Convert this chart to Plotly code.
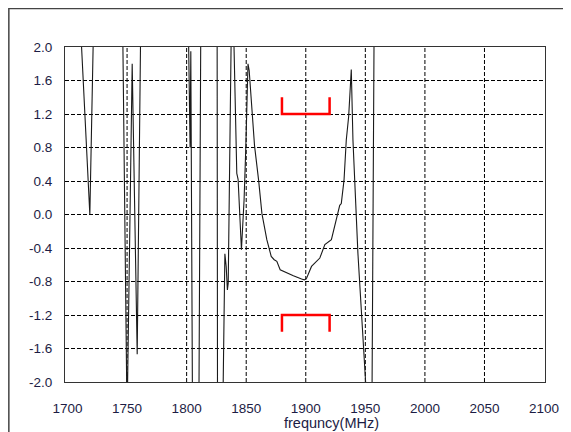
import plotly.graph_objects as go

# Measured trace (MHz, value); values beyond +/-2 run off the plotted scale
freq = [1700.0, 1718.75, 1721.5, 1724.0, 1745.5, 1750.0, 1754.3, 1758.5, 1762.0,
        1801.0, 1802.9, 1803.5, 1805.2, 1809.8, 1812.5, 1825.5, 1826.0, 1829.5,
        1832.1, 1833.2, 1834.2, 1834.9, 1837.8, 1839.0, 1842.1, 1843.2, 1846.0,
        1848.2, 1849.6, 1851.5, 1852.5, 1857.0, 1860.4, 1863.2, 1867.3, 1871.0,
        1873.5, 1875.7, 1878.5, 1882.7, 1889.6, 1896.5, 1898.75, 1900.7, 1904.8,
        1911.8, 1916.0, 1921.5, 1924.3, 1928.5, 1929.8, 1932.1, 1934.0, 1936.0,
        1938.2, 1939.6, 1943.75, 1950.2, 1951.5, 1955.5, 1957.5, 1960.0]
value = [5.4, 0.0, 2.0, 3.82, 3.29, -2.45, 1.8, -1.67, 3.0,
         2.7, 0.8, 1.95, -3.2, -3.7, 4.0, 3.5, -3.5, -3.3,
         -0.47, -0.62, -0.90, -0.82, 2.59, 2.5, 0.49, 0.42, -0.42,
         0.17, 0.77, 1.8, 1.72, 0.82, 0.41, 0.01, -0.30, -0.50,
         -0.54, -0.56, -0.66, -0.69, -0.73, -0.77, -0.78, -0.76, -0.62,
         -0.52, -0.36, -0.30, -0.15, 0.11, 0.13, 0.41, 0.89, 1.17,
         1.73, 0.89, -0.46, -1.94, -2.3, -2.4, 2.6, 5.0]

# Limit brackets (red)
upper_x = [1880, 1880, 1920, 1920]
upper_y = [1.4, 1.2, 1.2, 1.4]
lower_x = [1880, 1880, 1920, 1920]
lower_y = [-1.4, -1.2, -1.2, -1.4]

x_ticks = [1700, 1750, 1800, 1850, 1900, 1950, 2000, 2050, 2100]
x_grid = [1750, 1800, 1850, 1900, 1950, 2000, 2050]
y_ticks = [-2.0, -1.6, -1.2, -0.8, -0.4, 0.0, 0.4, 0.8, 1.2, 1.6, 2.0]
x_title = "frequncy(MHz)"

txt_color = "#1c1c44"
font_family = "Liberation Sans, Arial, sans-serif"

fig = go.Figure()
fig.add_trace(go.Scatter(x=freq, y=value, mode="lines",
                         line=dict(color="#1a1a1a", width=1.1),
                         hoverinfo="skip", showlegend=False))
fig.add_trace(go.Scatter(x=upper_x, y=upper_y, mode="lines",
                         line=dict(color="#ff0000", width=2.5),
                         showlegend=False))
fig.add_trace(go.Scatter(x=lower_x, y=lower_y, mode="lines",
                         line=dict(color="#ff0000", width=2.5),
                         showlegend=False))

shapes = [dict(type="rect", xref="paper", yref="paper",
               x0=-0.117, x1=1.3, y0=-0.4, y1=1.115,
               line=dict(color="#444444", width=1.5), layer="below")]
for gx in x_grid:
    shapes.append(dict(type="line", xref="x", yref="paper", x0=gx, x1=gx,
                       y0=0, y1=1, layer="below",
                       line=dict(color="black", width=1, dash="4px,2px")))

# page body adds an 8px offset, so the figure is 8px smaller than the window
fig.update_layout(
    width=563, height=424,
    margin=dict(l=57, r=23, t=39, b=50),
    paper_bgcolor="white", plot_bgcolor="white",
    font=dict(family=font_family, size=13.5, color=txt_color),
    showlegend=False,
    annotations=[dict(text=x_title, xref="paper", yref="paper",
                      x=0.555, y=-0.122, xanchor="center", yanchor="middle",
                      showarrow=False, font=dict(size=14.5, color=txt_color))],
    shapes=shapes,
)
fig.update_xaxes(range=[1697.9, 2100.8], tickvals=x_ticks,
                 ticktext=[str(v) for v in x_ticks],
                 showgrid=False,
                 showline=True, linecolor="#333333", linewidth=1.2, mirror=True,
                 ticks="outside", ticklen=14, tickcolor="rgba(0,0,0,0)",
                 zeroline=False, fixedrange=True)
fig.update_yaxes(range=[-2.0, 2.0], tickvals=y_ticks,
                 ticktext=["%.1f" % v for v in y_ticks],
                 showgrid=True, gridcolor="black", gridwidth=1, griddash="4px,2px",
                 showline=True, linecolor="#333333", linewidth=1.2, mirror=True,
                 ticks="outside", ticklen=9, tickcolor="rgba(0,0,0,0)",
                 zeroline=False, fixedrange=True)

fig.write_html("out.html")
